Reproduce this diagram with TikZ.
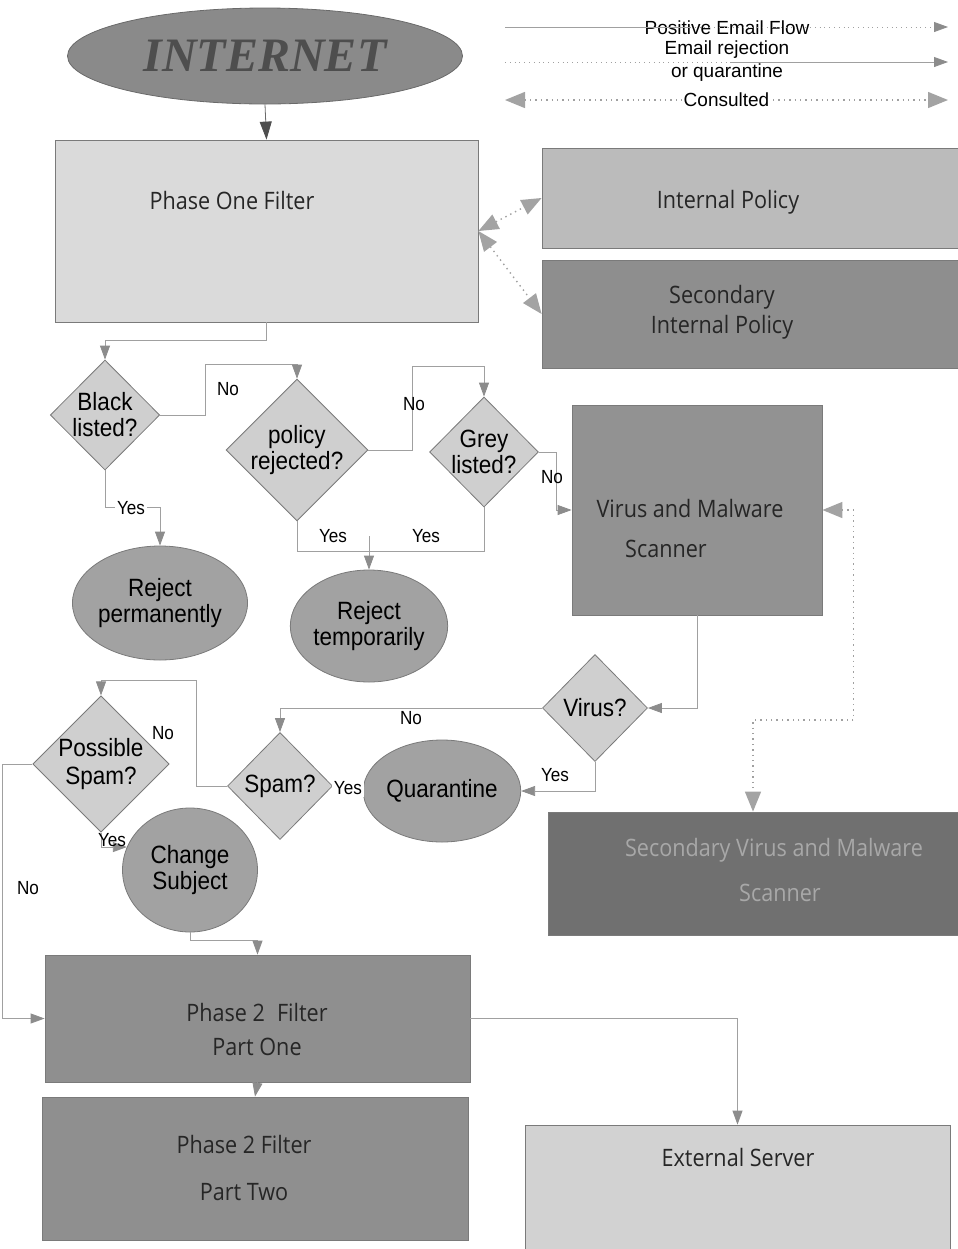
\documentclass[tikz,border=0pt]{standalone}
\usepackage{fontspec}
\setmainfont{Liberation Sans}
\newfontfamily\diafont[FakeStretch=0.9]{Liberation Sans}
\newfontfamily\boxfont[FakeStretch=0.9]{Open Sans}
\newfontfamily\netfont{Liberation Serif}
\usepackage{tikz}
\usetikzlibrary{arrows.meta, shapes.geometric}
\definecolor{netfill}{HTML}{8A8A8A}
\definecolor{netedge}{HTML}{6A6A6A}
\definecolor{nettext}{HTML}{4E4E4E}
\definecolor{lightfill}{HTML}{DADADA}
\definecolor{ipfill}{HTML}{BBBBBB}
\definecolor{sipfill}{HTML}{8E8E8E}
\definecolor{diafill}{HTML}{CFCFCF}
\definecolor{circfill}{HTML}{A2A2A2}
\definecolor{vsfill}{HTML}{929292}
\definecolor{svsfill}{HTML}{707070}
\definecolor{svstext}{HTML}{A8A8A8}
\definecolor{p2fill}{HTML}{8F8F8F}
\definecolor{esfill}{HTML}{D2D2D2}
\definecolor{linegray}{HTML}{A0A0A0}
\definecolor{edgegray}{HTML}{7A7A7A}
\definecolor{tipgray}{HTML}{8C8C8C}
\definecolor{boxtext}{HTML}{262626}
\tikzset{>={Triangle[width=5pt,length=7pt,color=tipgray]},
  flow/.style={->, draw=linegray, line width=0.4pt},
  flowplain/.style={draw=linegray, line width=0.4pt},
  consult/.style={draw=linegray, line width=0.7pt, dotted,
    {Triangle[width=8pt,length=10pt,color=tipgray!80]}-{Triangle[width=8pt,length=10pt,color=tipgray!80]}},
  box/.style={rectangle, draw=edgegray, line width=0.4pt, inner sep=0pt},
  boxlabel/.style={text=boxtext, align=center, font={\boxfont\fontsize{12}{17}\selectfont}},
  decision/.style={diamond, aspect=1, draw=edgegray, fill=diafill, inner sep=0pt, align=center,
    font={\diafont\fontsize{12.5}{13}\selectfont}},
  endpoint/.style={ellipse, draw=edgegray, fill=circfill, inner sep=0pt, align=center,
    font={\diafont\fontsize{12.5}{13}\selectfont}},
  lbl/.style={inner sep=1pt, font={\diafont\fontsize{9.5}{11}\selectfont}},
  onlbl/.style={lbl, fill=white},
  legendtext/.style={inner sep=1pt, align=center, font={\fontsize{9.5}{11.5}\selectfont}}
}

\begin{document}
\begin{tikzpicture}[x=0.5pt, y=-0.5pt]
\useasboundingbox (0,0) rectangle (958,1249);

% legend
\coordinate (lgA) at (505,27);
\coordinate (lgB) at (948,27);
\coordinate (lrA) at (505,62);
\coordinate (lrB) at (948,62);
\coordinate (lcA) at (505,100);
\coordinate (lcB) at (948,100);
\node[legendtext] (lgT) at (727,28) {Positive Email Flow};
\node[legendtext] (lrT) at (727,61) {Email rejection\\or quarantine};
\draw[flowplain] (lgA) -- (690,27);
\draw[flow, dotted] (690,27) -- (lgB);
\draw[flowplain, dotted] (lrA) -- (730,62);
\draw[flow] (730,62) -- (lrB);
\draw[consult] (lcA) -- node[legendtext, fill=white] (lcT) {Consulted} (lcB);

% nodes
\node[ellipse, draw=netedge, fill=netfill, minimum width=197.5pt, minimum height=48pt] (net) at (265,56)
  {\netfont\bfseries\itshape\fontsize{24}{24}\selectfont\textcolor{nettext}{INTERNET}};

\node[box, fill=lightfill, minimum width=211.5pt, minimum height=91pt] (p1) at (266.5,231) {};
\node[boxlabel] (p1t) at (232,200) {Phase One Filter};
\node[box, fill=ipfill, minimum width=208pt, minimum height=50pt] (ip) at (750,198) {};
\node[boxlabel] (ipt) at (728,202) {Internal Policy};
\node[box, fill=sipfill, minimum width=208pt, minimum height=54pt] (sip) at (750,314) {};
\node[boxlabel, font={\boxfont\fontsize{12}{15}\selectfont}] (sipt) at (722,312) {Secondary\\Internal Policy};

\node[decision, minimum width=53pt, minimum height=55pt] (bl) at (105,415) {Black\\listed?};
\node[decision, minimum width=51pt, minimum height=55pt] (pol) at (297,450) {policy\\rejected?};
\node[decision, minimum width=51.5pt, minimum height=55pt] (gl) at (484,452) {Grey\\listed?};
\node[endpoint, minimum width=67pt, minimum height=57pt] (rp) at (160,603) {Reject\\permanently};
\node[endpoint, minimum width=67pt, minimum height=56pt] (rt) at (369,626) {Reject\\temporarily};

\node[box, fill=vsfill, minimum width=125pt, minimum height=105pt] (vs) at (697,510) {};
\node[boxlabel, font={\boxfont\fontsize{12}{20}\selectfont}] (vst) at (690,528) {Virus and Malware\\Scanner\kern24pt};
\node[decision, minimum width=52.5pt, minimum height=53.5pt] (vi) at (595,708) {Virus?};
\node[endpoint, minimum width=62.5pt, minimum height=51pt] (qu) at (442,791) {Quarantine};
\node[decision, minimum width=52.5pt, minimum height=53.5pt] (sp) at (280,786) {Spam?};
\node[decision, minimum width=63.5pt, minimum height=58.5pt, font={\diafont\fontsize{12.5}{14}\selectfont}] (ps) at (101,764) {Possible\\Spam?};
\node[endpoint, minimum width=67.5pt, minimum height=62pt] (cs) at (190,870) {Change\\Subject};

\node[box, fill=svsfill, minimum width=205pt, minimum height=61.5pt] (svs) at (753,873.5) {};
\node[boxlabel, text=svstext, font={\boxfont\fontsize{12}{22.5}\selectfont}] (svst) at (774,870) {Secondary Virus and Malware\\\kern6pt Scanner};

\node[box, fill=p2fill, minimum width=212.5pt, minimum height=63.5pt] (p2a) at (257.5,1018.5) {};
\node[boxlabel] (p2at) at (257,1029) {Phase 2\enspace Filter\\Part One};
\node[box, fill=p2fill, minimum width=213pt, minimum height=71.5pt] (p2b) at (255,1168.5) {};
\node[boxlabel, font={\boxfont\fontsize{12}{23.5}\selectfont}] (p2bt) at (244,1168) {Phase 2 Filter\\Part Two};
\node[box, fill=esfill, minimum width=212.5pt, minimum height=63pt] (es) at (737.5,1188) {};
\node[boxlabel] (est) at (738,1157) {External Server};

% connectors
\draw[->, draw=netedge, line width=0.4pt, >={Triangle[width=6pt,length=9pt,color=nettext]}] (net.south) -- (p1.north);
\draw[consult] (p1.east) -- (ip.west);
\draw[consult] (p1.east) -- (sip.west);

\draw[flow] (p1.south) -- ++(0,18) -| (bl.north);
\draw[flow] (bl.east) -- ++(45,0) -- ++(0,-51) -| (pol.north);
\draw[flow] (pol.east) -- ++(44,0) -- ++(0,-84) -| (gl.north);
\draw[flow] (gl.east) -- ++(18,0) |- (vs.west);
\draw[flow] (bl.south) -- ++(0,37) -| (rp.north);
\draw[flowplain] (pol.south) -- ++(0,30) -| (gl.south);
\coordinate (yj) at (rt.north |- 0,536);
\draw[flow] (yj) -- (rt.north);
\node[lbl] (no1) at (228,389) {No};
\node[lbl] (no2) at (414,404) {No};
\node[lbl] (no3) at (552,477) {No};
\node[onlbl] (yes1) at (131,508) {Yes};
\node[onlbl] (yes2) at (333,536) {Yes};
\node[onlbl] (yes3) at (426,536) {Yes};

\draw[flow] (vs.south) |- (vi.east);
\draw[flow] (vi.west) -| (sp.north);
\draw[flow] (vi.south) |- (qu.east);
\draw[flow] (sp.east) -- node[onlbl] (yes5) {Yes} (qu.west);
\draw[flow] (sp.west) -- ++(-31,0) -- ++(0,-106) -| (ps.north);
\draw[flow] (ps.south) |- (cs.160);
\draw[flow] (ps.west) -- ++(-30,0) |- (p2a.west);
\draw[flow] (cs.south) -- ++(0,8) -| (p2a.north);
\draw[flow] (p2a.south) -- (p2b.north);
\draw[flow] (p2a.east) -| (es.north);
\draw[consult] (vs.east) -- ++(31,0) -- ++(0,210) -| (svs.north);
\node[lbl] (no4) at (411,718) {No};
\node[lbl] (yes4) at (555,775) {Yes};
\node[lbl] (no5) at (163,733) {No};
\node[lbl] (yes6) at (112,840) {Yes};
\node[lbl] (no6) at (28,888) {No};
\end{tikzpicture}
\end{document}
